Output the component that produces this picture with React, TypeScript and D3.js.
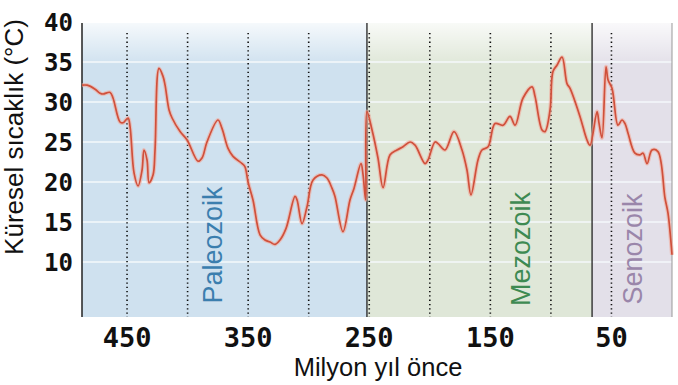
import React from "react";
import * as d3 from "d3";

const W = 678;
const H = 385;

// Temperature record: [million years ago, global temperature °C]
const ages: number[] = [
  487.2, 483.0, 476.4, 472.3, 469.8, 464.0, 461.6, 455.8, 453.3, 449.2, 447.5, 444.2, 440.9, 437.6, 436.0,
  433.5, 431.8, 428.5, 426.9, 423.6, 420.3, 418.6, 415.3, 412.8, 406.2, 400.4, 391.4, 388.1, 384.0,
  374.9, 371.6, 366.6, 362.5, 355.0, 352.6, 350.1, 346.0, 340.2, 336.1, 331.9, 327.8, 323.7, 318.7,
  311.3, 309.6, 305.5, 301.4, 296.4, 289.0, 284.9, 280.7, 278.3, 271.7, 265.9, 262.6, 256.8, 255.1,
  253.0, 251.9, 247.7, 242.8, 238.6, 232.8, 227.1, 222.1, 216.3, 212.2, 203.9, 201.5, 195.7, 193.2,
  187.4, 180.0, 173.4, 169.3, 166.0, 160.2, 156.9, 151.9, 146.1, 139.5, 133.8, 129.6, 123.0, 115.6,
  113.1, 107.3, 104.9, 100.7, 98.3, 95.0, 90.8, 86.7, 84.2, 76.0, 70.2, 67.7, 61.9, 60.3, 57.8,
  54.5, 52.8, 49.5, 44.6, 41.3, 38.8, 36.3, 30.6, 26.4, 23.9, 20.6, 16.5, 11.6, 5.8, 3.3, 0,
];
const temps: number[] = [
  32.1, 32.1, 31.6, 31.1, 31.0, 31.2, 30.5, 27.5, 27.4, 28.0, 26.9, 21.1, 19.5, 21.5, 24.0,
  22.75, 19.9, 20.9, 24.0, 34.2, 33.2, 32.1, 29.0, 28.0, 26.3, 25.25, 22.6, 23.0, 25.0,
  27.75, 26.7, 24.2, 23.2, 22.3, 21.9, 20.0, 17.75, 13.4, 12.75, 12.5, 12.2, 12.75, 14.2,
  18.2, 17.75, 14.8, 16.9, 20.25, 20.9, 20.5, 19.2, 18.2, 13.8, 17.75, 19.2, 22.3, 20.9,
  17.75, 28.8, 26.5, 23.0, 19.3, 23.4, 24.0, 24.4, 25.0, 24.6, 22.3, 22.75, 25.0, 24.8,
  24.0, 26.3, 24.0, 21.5, 18.4, 22.75, 24.0, 24.4, 27.3, 27.1, 28.2, 27.1, 30.5, 31.9,
  30.7, 26.5, 26.3, 29.0, 33.8, 34.6, 35.6, 32.3, 31.7, 28.2, 25.25, 24.6, 28.8, 27.4, 25.5,
  34.4, 32.75, 31.7, 27.1, 27.75, 27.3, 26.1, 23.6, 23.4, 23.6, 22.3, 24.0, 23.8, 18.0, 16.1, 10.9,
];

const eraNames: string[] = ["Paleozoik", "Mezozoik", "Senozoik"];
const eraStart: number[] = [487.2, 251.9, 66];
const eraEnd: number[] = [251.9, 66, 0];
const eraFill: string[] = ["#cfe1ef", "#dfe7d8", "#e3e0e9"];
const eraText: string[] = ["#3b7eae", "#3e8a52", "#9a86aa"];
const eraLabelAge: number[] = [379, 125, 32];

const xTicks: number[] = [450, 350, 250, 150, 50];
const dottedLines: number[] = [450, 400, 350, 300, 250, 200, 150, 100, 50];
const yTicks: number[] = [10, 15, 20, 25, 30, 35, 40];
const gridLines: number[] = [10, 15, 20, 25, 30, 35];

export default function App() {
  const plotTop = 23;
  const plotBottom = 317;
  const x = d3.scaleLinear().domain([487.2, 0]).range([82, 672]);
  const y = d3.scaleLinear().domain([3, 40]).range([318, 22]);

  const pts: [number, number][] = ages.map((a, i) => [a, temps[i]]);
  const line = d3
    .line<[number, number]>()
    .x((d) => x(d[0]))
    .y((d) => y(d[1]))
    .curve(d3.curveCatmullRom.alpha(0.5));
  const path = line(pts) || "";

  const tickFont = "'DejaVu Sans Mono', monospace";
  const sans = "'Liberation Sans', Arial, sans-serif";

  return (
    <svg
      width={W}
      height={H}
      style={{ position: "absolute", left: 0, top: 0, background: "#ffffff" }}
    >
      <defs>
        <linearGradient id="topFade" x1="0" y1="0" x2="0" y2="1">
          <stop offset="0" stopColor="#ffffff" stopOpacity={0.8} />
          <stop offset="1" stopColor="#ffffff" stopOpacity={0} />
        </linearGradient>
      </defs>

      {eraNames.map((n, i) => (
        <rect
          key={n}
          x={x(eraStart[i])}
          y={plotTop}
          width={x(eraEnd[i]) - x(eraStart[i])}
          height={plotBottom - plotTop}
          fill={eraFill[i]}
        />
      ))}
      <rect x={82} y={plotTop} width={590} height={42} fill="url(#topFade)" />

      {gridLines.map((t) => (
        <line key={t} x1={82} x2={672} y1={y(t)} y2={y(t)} stroke="#f4f8fb" strokeWidth={1.6} />
      ))}

      {dottedLines.map((a) => (
        <line
          key={a}
          x1={x(a)}
          x2={x(a)}
          y1={33}
          y2={plotBottom}
          stroke="#111"
          strokeWidth={1.6}
          strokeDasharray="1.3 3"
        />
      ))}

      {eraStart.slice(1).map((a) => (
        <line key={a} x1={x(a)} x2={x(a)} y1={plotTop} y2={plotBottom} stroke="#222" strokeWidth={1.3} />
      ))}
      <line x1={672} x2={672} y1={plotTop} y2={plotBottom} stroke="#999" strokeWidth={1} />
      <line x1={82} x2={82} y1={plotTop} y2={plotBottom} stroke="#222" strokeWidth={1.5} />

      {eraNames.map((n, i) => (
        <text
          key={n}
          transform={`translate(${x(eraLabelAge[i]) + 9},${i === 0 ? 245 : 249}) rotate(-90)`}
          textAnchor="middle"
          fontFamily={sans}
          fontSize={27}
          fill={eraText[i]}
        >
          {n}
        </text>
      ))}

      <path d={path} fill="none" stroke="#f2a89a" strokeOpacity={0.6} strokeWidth={4} strokeLinejoin="round" />
      <path d={path} fill="none" stroke="#d0503b" strokeWidth={1.7} strokeLinejoin="round" />

      {yTicks.map((t) => (
        <text
          key={t}
          x={73}
          y={y(t)}
          dy="0.36em"
          textAnchor="end"
          fontFamily={tickFont}
          fontWeight="bold"
          fontSize={24}
          fill="#111"
        >
          {t}
        </text>
      ))}
      {xTicks.map((t) => (
        <text
          key={t}
          x={x(t)}
          y={347}
          textAnchor="middle"
          fontFamily={tickFont}
          fontWeight="bold"
          fontSize={27}
          fill="#111"
        >
          {t}
        </text>
      ))}

      <text
        transform="translate(23,137) rotate(-90)"
        textAnchor="middle"
        fontFamily={sans}
        fontSize={26}
        fill="#111"
      >
        Küresel sıcaklık (°C)
      </text>
      <text x={378} y={376} textAnchor="middle" fontFamily={sans} fontSize={25.5} fill="#111">
        Milyon yıl önce
      </text>
    </svg>
  );
}
